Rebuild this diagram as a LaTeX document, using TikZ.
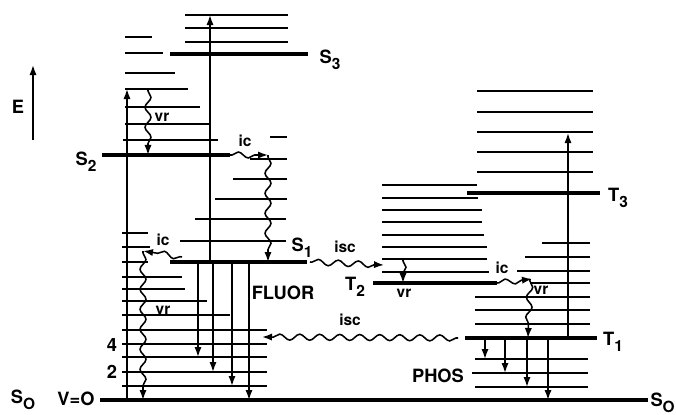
\documentclass[tikz,border=0pt]{standalone}
\usepackage{fontspec}
\setmainfont{TeX Gyre Heros}
\usetikzlibrary{arrows.meta,decorations.pathmorphing}

\newcommand{\lvl}[2]{#1\raisebox{-0.6ex}{\fontsize{11}{12}\selectfont #2}}

\begin{document}
\begin{tikzpicture}[
    x=0.025cm, y=-0.025cm,
    lev/.style={line width=1.4pt},
    mainlev/.style={line width=2.2pt},
    arrow/.style={line width=1.1pt, -{Latex[length=2.5mm, width=1.8mm]}},
    wavy/.style={arrow, decorate, decoration={snake, amplitude=0.75mm,
                 segment length=5mm, pre length=0.5mm, post length=2.3mm}},
    lbl/.style={font=\fontsize{13}{15}\selectfont\bfseries, inner sep=0pt},
    proc/.style={font=\fontsize{11}{13}\selectfont\bfseries, inner sep=0pt}
]
\useasboundingbox (0,0) rectangle (676,414);

% vibrational levels
\foreach \xa/\xb/\y in {122/148/233, 122/150/247, 122/148/262, 122/182/277, 122/185/289,
    122/207/301, 122/230/315, 122/267/330, 122/267/344, 122/267/357, 122/267/372, 122/267/386,
    125/152/37, 125/163/53, 125/175/73, 125/188/89, 125/200/107, 125/210/124, 123/218/140,
    185/288/15, 185/288/28, 185/288/42,
    270/287/137, 250/287/159, 233/287/179, 215/287/199, 195/286/219, 180/286/241,
    382/477/185, 382/478/198, 382/482/210, 382/482/222, 382/484/235, 382/487/247, 382/487/259, 382/489/272,
    477/593/91, 477/593/112, 477/593/132, 477/593/152, 477/593/172,
    542/590/243, 525/590/257, 517/590/271, 530/590/283, 475/590/297, 475/590/310, 475/590/324,
    475/588/359, 472/588/373, 475/588/387}
  \draw[lev] (\xa,\y) -- (\xb,\y);

% electronic states
\draw[mainlev] (100,400) coordinate (S0l) -- (648,400) coordinate (S0r);
\draw[mainlev] (170,262) coordinate (S1l) -- (307,262) coordinate (S1r);
\draw[mainlev] (102,155) coordinate (S2l) -- (230,155) coordinate (S2r);
\draw[mainlev] (170,54) coordinate (S3l) -- (308,54) coordinate (S3r);
\draw[mainlev] (465,338) coordinate (T1l) -- (597,338) coordinate (T1r);
\draw[mainlev] (373,283) coordinate (T2l) -- (497,283) coordinate (T2r);
\draw[mainlev] (467,193) coordinate (T3l) -- (600,193) coordinate (T3r);

% labels
\node[lbl] (Elab) at (18,107) {E};
\node[lbl] (s3lab) at (330,60) {\lvl{S}{3}};
\node[lbl] (s2lab) at (86,162) {\lvl{S}{2}};
\node[lbl] (s1lab) at (302,248) {\lvl{S}{1}};
\node[lbl] (s0lab) at (23,400) {\lvl{S}{O}};
\node[lbl, anchor=east] (s0rlab) at (675,403) {\lvl{S}{O}};
\node[lbl] (vlab) at (76,399) {V=O};
\node[lbl] (four) at (112,345) {4};
\node[lbl] (two) at (112,372) {2};
\node[lbl] (t3lab) at (618,198) {\lvl{T}{3}};
\node[lbl] (t2lab) at (355,287) {\lvl{T}{2}};
\node[lbl] (t1lab) at (613,342) {\lvl{T}{1}};
\node[lbl] (fluor) at (283,293) {FLUOR};
\node[lbl] (phos) at (438,376) {PHOS};

\node[proc] (vr1) at (162,117) {vr};
\node[proc] (ic1) at (245,141) {ic};
\node[proc] (ic2) at (163,240) {ic};
\node[proc] (vr2) at (163,310) {vr};
\node[proc] (isc1) at (345,247) {isc};
\node[proc] (vr3) at (404,293) {vr};
\node[proc] (ic3) at (502,268) {ic};
\node[proc] (vr4) at (541,290) {vr};
\node[proc] (isc2) at (350,320) {isc};

% energy axis
\coordinate (Ebot) at (33,140);
\coordinate (Etop) at (33,65);
\draw[arrow] (Ebot) -- (Etop);

% absorption
\coordinate (a1) at (127,400); \coordinate (a1e) at (127,89);
\coordinate (a2) at (210,262); \coordinate (a2e) at (210,15);
\coordinate (a3) at (568,338); \coordinate (a3e) at (568,133);
\draw[arrow] (a1) -- (a1e);
\draw[arrow] (a2) -- (a2e);
\draw[arrow] (a3) -- (a3e);

% fluorescence and phosphorescence
\foreach \i/\x/\y in {1/198/357, 2/213/372, 3/232/386, 4/249/400} {
  \coordinate (f\i) at (\x,262); \coordinate (f\i e) at (\x,\y);
  \draw[arrow] (f\i) -- (f\i e);
}
\foreach \i/\x/\y in {1/485/359, 2/505/373, 3/527/387, 4/548/400} {
  \coordinate (p\i) at (\x,338); \coordinate (p\i e) at (\x,\y);
  \draw[arrow] (p\i) -- (p\i e);
}

% radiationless steps
\coordinate (w1) at (148,89);  \coordinate (w1e) at (148,155);
\coordinate (w2) at (230,155); \coordinate (w2e) at (268,155);
\coordinate (w3) at (268,155); \coordinate (w3e) at (268,262);
\coordinate (w4) at (182,257); \coordinate (w4e) at (143,251);
\coordinate (w5) at (143,251); \coordinate (w5e) at (143,400);
\coordinate (w6) at (310,262); \coordinate (w6e) at (384,265);
\coordinate (w7) at (403,259); \coordinate (w7e) at (403,283);
\coordinate (w8) at (497,283); \coordinate (w8e) at (532,279);
\coordinate (w9) at (530,279); \coordinate (w9e) at (528,338);
\coordinate (w10) at (458,338); \coordinate (w10e) at (262,337);
\foreach \i in {1,...,10}
  \draw[wavy] (w\i) -- (w\i e);
\end{tikzpicture}
\end{document}
